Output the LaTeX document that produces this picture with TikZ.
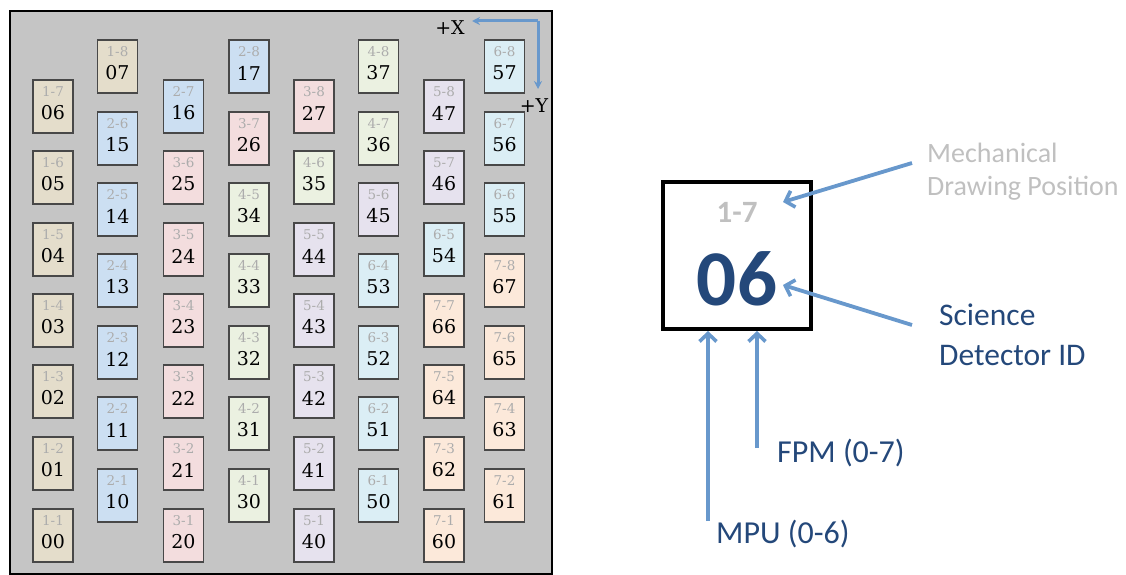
\documentclass[tikz,border=0pt]{standalone}
\usepackage{fontspec}
\setmainfont{DejaVu Serif}
\newfontfamily\calib{Carlito}
\usetikzlibrary{arrows.meta}
\definecolor{panel}{RGB}{197,197,197}
\definecolor{detborder}{RGB}{72,72,72}
\definecolor{smallgray}{RGB}{172,172,172}
\definecolor{arrowblue}{RGB}{104,152,204}
\definecolor{darkblue}{RGB}{36,72,122}
\definecolor{mechgray}{RGB}{192,192,192}
\definecolor{mpu1}{RGB}{228,221,203}
\definecolor{mpu2}{RGB}{204,223,242}
\definecolor{mpu3}{RGB}{243,221,222}
\definecolor{mpu4}{RGB}{235,241,225}
\definecolor{mpu5}{RGB}{230,226,238}
\definecolor{mpu6}{RGB}{219,238,245}
\definecolor{mpu7}{RGB}{252,233,218}
\tikzset{
  detbox/.style={draw=detborder, line width=1.9pt, minimum width=40pt, minimum height=53pt, inner sep=0pt, anchor=north},
  poslabel/.style={text=smallgray, font=\fontsize{13.5}{13.5}\selectfont, inner sep=0pt},
  numlabel/.style={text=black, font=\fontsize{19}{19}\selectfont, inner sep=0pt},
  axarrow/.style={draw=arrowblue, line width=3pt, -{Stealth[length=8pt,width=8pt]}},
  callout/.style={draw=arrowblue, line width=3.8pt, -{Straight Barb[length=8pt,width=17pt,line width=3.6pt]}},
}
\begin{document}
\begin{tikzpicture}[x=1pt,y=-1pt]
\useasboundingbox (0,0) rectangle (1126,575);
\node[draw=black, line width=2.4pt, fill=panel, minimum width=542pt, minimum height=563pt, inner sep=0pt, anchor=north west] (panel) at (9,10) {};
\foreach \x/\t/\m/\f/\n in {
 53/508/1/1/00, 53/436/1/2/01, 53/364/1/3/02, 53/293/1/4/03, 53/222/1/5/04, 53/150/1/6/05, 53/79/1/7/06, 117.5/39/1/8/07,
 117.5/468/2/1/10, 117.5/396/2/2/11, 117.5/325/2/3/12, 117.5/253/2/4/13, 117.5/182/2/5/14, 117.5/111/2/6/15, 183.5/79/2/7/16, 249/39/2/8/17,
 183.5/508/3/1/20, 183.5/436/3/2/21, 183.5/364/3/3/22, 183.5/293/3/4/23, 183.5/222/3/5/24, 183.5/150/3/6/25, 249/111/3/7/26, 314/79/3/8/27,
 249/468/4/1/30, 249/396/4/2/31, 249/325/4/3/32, 249/253/4/4/33, 249/182/4/5/34, 314/150/4/6/35, 378.5/111/4/7/36, 378.5/39/4/8/37,
 314/508/5/1/40, 314/436/5/2/41, 314/364/5/3/42, 314/293/5/4/43, 314/222/5/5/44, 378.5/182/5/6/45, 444/150/5/7/46, 444/79/5/8/47,
 378.5/468/6/1/50, 378.5/396/6/2/51, 378.5/325/6/3/52, 378.5/253/6/4/53, 444/222/6/5/54, 504.5/182/6/6/55, 504.5/111/6/7/56, 504.5/39/6/8/57,
 444/508/7/1/60, 504.5/468/7/2/61, 444/436/7/3/62, 504.5/396/7/4/63, 444/364/7/5/64, 504.5/325/7/6/65, 444/293/7/7/66, 504.5/253/7/8/67}{
  \node[detbox, fill=mpu\m] (d\n) at (\x,\t) {};
  \node[poslabel] (p\n) at (\x,\t+12.5) {\m-\f};
  \node[numlabel] (n\n) at (\x,\t+34) {\n};
}
% axes
\coordinate (corner) at (538,21);
\coordinate (xend) at (472,21);
\coordinate (yend) at (538,89);
\draw[axarrow] (corner) -- (xend);
\draw[axarrow] (corner) -- (yend);
\node[font=\fontsize{19}{19}\selectfont, inner sep=0pt] (xlab) at (450,28) {+X};
\node[font=\fontsize{19}{19}\selectfont, inner sep=0pt] (ylab) at (534,106) {+Y};
% legend
\node[draw=black, line width=4pt, minimum width=148pt, minimum height=147pt, inner sep=0pt] (lg) at (737,255.5) {};
\node[font=\calib\bfseries\fontsize{31}{31}\selectfont, text=mechgray, inner sep=0pt] (lgpos) at (737,212) {1-7};
\node[font=\calib\bfseries\fontsize{79}{79}\selectfont, text=darkblue, inner sep=0pt] (lgnum) at (737,279) {06};
\node[font=\calib\fontsize{28}{33}\selectfont, text=mechgray, align=left, anchor=west, inner sep=0pt] (mech) at (927,172) {Mechanical\\Drawing Position};
\node[font=\calib\fontsize{31.5}{40}\selectfont, text=darkblue, align=left, anchor=west, inner sep=0pt] (sci) at (939,335) {Science\\Detector ID};
\node[font=\calib\fontsize{32}{32}\selectfont, text=darkblue, anchor=west, inner sep=0pt] (fpm) at (777,453) {FPM (0-7)};
\node[font=\calib\fontsize{32}{32}\selectfont, text=darkblue, anchor=west, inner sep=0pt] (mpu) at (716,534) {MPU (0-6)};
\coordinate (mechstart) at (912,163);
\coordinate (mechend) at (783,202);
\coordinate (scistart) at (912,325);
\coordinate (sciend) at (783,285);
\coordinate (fpmstart) at (757,448);
\coordinate (mpustart) at (708,521);
\draw[callout] (mechstart) -- (mechend);
\draw[callout] (scistart) -- (sciend);
\draw[callout] (fpmstart) -- (fpmstart |- lg.south);
\draw[callout] (mpustart) -- (mpustart |- lg.south);
\end{tikzpicture}
\end{document}
